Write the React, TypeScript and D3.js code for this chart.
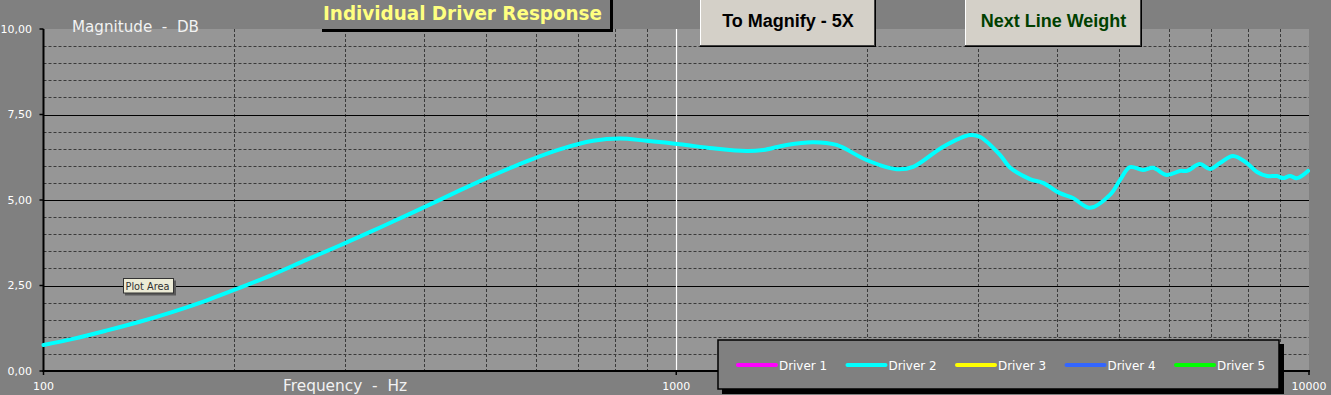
import React from "react";
import * as d3 from "d3";

// ---- data ----
const freqs: number[] = [
  100, 111.3, 125.6, 141.9, 160.1, 180.8, 204.1, 230.4, 260.2, 293.8, 327.7,
  356.8, 402.8, 454.7, 513.3, 579.9, 654.5, 738.8, 814.2, 897.3, 1013, 1143,
  1291, 1372, 1494, 1646, 1792, 1998, 2229, 2368, 2642, 2911, 3019, 3248,
  3368, 3622, 3797, 4039, 4236, 4506, 4846, 5026, 5212, 5465, 5668, 5964,
  6252, 6414, 6725, 6975, 7233, 7583, 7980, 8277, 8584, 8900, 9095, 9333,
  9572, 9964,
];
const driver2: number[] = [
  0.76, 0.94, 1.18, 1.44, 1.73, 2.06, 2.43, 2.82, 3.25, 3.67, 4.06, 4.37,
  4.82, 5.28, 5.72, 6.13, 6.48, 6.73, 6.8, 6.73, 6.63, 6.51, 6.43, 6.46, 6.61,
  6.69, 6.61, 6.17, 5.9, 5.97, 6.56, 6.9, 6.85, 6.32, 5.95, 5.61, 5.5, 5.2,
  5.06, 4.77, 5.15, 5.58, 5.96, 5.88, 5.94, 5.73, 5.85, 5.85, 6.05, 5.91, 6.08,
  6.29, 6.08, 5.82, 5.7, 5.7, 5.64, 5.7, 5.64, 5.85,
];
const yTicks: number[] = [0, 2.5, 5, 7.5, 10];
const yTickLabels: string[] = ["0,00", "2,50", "5,00", "7,50", "10,00"];
const yMinor: number[] = [0.5, 1, 1.5, 2, 3, 3.5, 4, 4.5, 5.5, 6, 6.5, 7, 8, 8.5, 9, 9.5];
const xTicks: number[] = [100, 1000, 10000];
const xMinor: number[] = [200, 300, 400, 500, 600, 700, 800, 900, 2000, 3000, 4000, 5000, 6000, 7000, 8000, 9000];
const legendNames: string[] = ["Driver 1", "Driver 2", "Driver 3", "Driver 4", "Driver 5"];
const legendColors: string[] = ["#ff00ff", "#00ffff", "#ffff00", "#3366ff", "#00ff00"];

const W = 1331;
const H = 395;
const X0 = 43.5;
const X1 = 1309;
const Y0 = 371;
const Y1 = 29;

const FONT = "'DejaVu Sans', Verdana, sans-serif";
const ARIAL = "'Liberation Sans', Arial, sans-serif";

export default function App() {
  const x = d3.scaleLog().domain([100, 10000]).range([X0, X1]);
  const y = d3.scaleLinear().domain([0, 10]).range([Y0, Y1]);
  const line = d3
    .line<number>()
    .x((_, i) => x(freqs[i]))
    .y((d) => y(d))
    .curve(d3.curveCatmullRom.alpha(0.5));

  return (
    <svg
      width={W}
      height={H}
      style={{ position: "absolute", left: 0, top: 0, display: "block" }}
    >
      <rect x={0} y={0} width={W} height={H} fill="#808080" />
      {/* plot area */}
      <rect x={X0} y={Y1} width={X1 - X0} height={Y0 - Y1} fill="#969696" />
      {/* minor horizontal grid */}
      {yMinor.map((v) => (
        <line
          key={"ym" + v}
          x1={X0}
          x2={X1}
          y1={Math.round(y(v)) + 0.5}
          y2={Math.round(y(v)) + 0.5}
          stroke="#3a3a3a"
          strokeWidth={1}
          strokeDasharray="3,2"
        />
      ))}
      {/* vertical minor grid */}
      {xMinor.map((f) => (
        <line
          key={"xm" + f}
          x1={Math.round(x(f)) + 0.5}
          x2={Math.round(x(f)) + 0.5}
          y1={Y1}
          y2={Y0}
          stroke="#3a3a3a"
          strokeWidth={1}
          strokeDasharray="3,2"
        />
      ))}
      {/* major horizontal */}
      {yTicks
        .filter((v) => v > 0 && v < 10)
        .map((v) => (
          <line
            key={"yM" + v}
            x1={X0}
            x2={X1}
            y1={Math.round(y(v)) + 0.5}
            y2={Math.round(y(v)) + 0.5}
            stroke="#000"
            strokeWidth={1.2}
          />
        ))}
      {/* 1000 Hz white line */}
      <line
        x1={Math.round(x(1000)) + 0.5}
        x2={Math.round(x(1000)) + 0.5}
        y1={Y1}
        y2={Y0}
        stroke="#ffffff"
        strokeWidth={1.2}
      />
      {/* axes */}
      <line x1={X0} x2={X0} y1={Y1} y2={Y0 + 1} stroke="#000" strokeWidth={2} />
      <line x1={X0 - 1} x2={X1 + 1} y1={Y0} y2={Y0} stroke="#000" strokeWidth={2} />
      {yTicks.map((v) => (
        <line key={"yt" + v} x1={X0 - 4} x2={X0} y1={y(v)} y2={y(v)} stroke="#000" strokeWidth={1.5} />
      ))}
      {xTicks.map((f) => (
        <line key={"xt" + f} x1={x(f)} x2={x(f)} y1={Y0} y2={Y0 + 4} stroke="#000" strokeWidth={1.5} />
      ))}
      {/* tick labels */}
      {yTicks.map((v, i) => (
        <text
          key={"yl" + v}
          x={32}
          y={y(v) + 3.5}
          textAnchor="end"
          fill="#ffffff"
          fontFamily={FONT}
          fontSize={11}
        >
          {yTickLabels[i]}
        </text>
      ))}
      {xTicks.map((f) => (
        <text
          key={"xl" + f}
          x={x(f)}
          y={390}
          textAnchor="middle"
          fill="#ffffff"
          fontFamily={FONT}
          fontSize={11}
        >
          {d3.format("d")(f)}
        </text>
      ))}
      {/* curve */}
      <path
        d={line(driver2) || ""}
        fill="none"
        stroke="#00ffff"
        strokeWidth={4}
        strokeLinejoin="round"
        strokeLinecap="round"
      />
      {/* axis titles */}
      <text
        x={72}
        y={31.5}
        fill="#f2f2f2"
        fontFamily={FONT}
        fontSize={15}
        textLength={127}
        lengthAdjust="spacingAndGlyphs"
        style={{ whiteSpace: "pre" }}
      >
        {"Magnitude  -  DB"}
      </text>
      <text
        x={283}
        y={391}
        fill="#f2f2f2"
        fontFamily={FONT}
        fontSize={15}
        textLength={124}
        lengthAdjust="spacingAndGlyphs"
        style={{ whiteSpace: "pre" }}
      >
        {"Frequency  -  Hz"}
      </text>
      {/* title */}
      <rect x={322} y={29} width={291} height={3} fill="#000" />
      <rect x={610} y={0} width={3} height={32} fill="#000" />
      <text
        x={323}
        y={20}
        fill="#ffff80"
        fontFamily={FONT}
        fontWeight="bold"
        fontSize={20}
        textLength={279}
        lengthAdjust="spacingAndGlyphs"
      >
        Individual Driver Response
      </text>
      {/* buttons */}
      {[
        { x0: 700, x1: 876, label: "To Magnify - 5X", color: "#000000" },
        { x0: 965, x1: 1142, label: "Next Line Weight", color: "#004000" },
      ].map((b) => (
        <g key={b.label}>
          <rect x={b.x0} y={0} width={b.x1 - b.x0} height={47} fill="#000" />
          <rect x={b.x0} y={0} width={b.x1 - b.x0 - 1} height={46} fill="#404040" />
          <rect x={b.x0} y={0} width={b.x1 - b.x0 - 2} height={45} fill="#d4d0c8" />
          <rect x={b.x0} y={0} width={1} height={45} fill="#ffffff" />
          <text
            x={(b.x0 + b.x1) / 2}
            y={27}
            textAnchor="middle"
            fill={b.color}
            fontFamily={ARIAL}
            fontWeight="bold"
            fontSize={18}
          >
            {b.label}
          </text>
        </g>
      ))}
      {/* plot area tooltip */}
      <rect x={125} y={280.5} width={51} height={15} fill="#5a5a5a" />
      <rect x={123.5} y={278.5} width={50} height={14.5} fill="#ecebd6" stroke="#333" strokeWidth={1} />
      <text x={125.5} y={290} fill="#303030" fontFamily={FONT} fontSize={10.5} textLength={44} lengthAdjust="spacingAndGlyphs">
        Plot Area
      </text>
      {/* legend */}
      <rect x={722} y={344} width={562} height={50} fill="#000" />
      <rect x={718} y={340} width={561} height={49} fill="#808080" stroke="#000" strokeWidth={1.5} />
      {legendNames.map((n, i) => {
        const lx = 738 + i * 109.5;
        return (
          <g key={n}>
            <line
              x1={lx}
              x2={lx + 38}
              y1={365}
              y2={365}
              stroke={legendColors[i]}
              strokeWidth={4}
              strokeLinecap="round"
            />
            <text
              x={lx + 41}
              y={370}
              fill="#ffffff"
              fontFamily={FONT}
              fontSize={13}
              textLength={48}
              lengthAdjust="spacingAndGlyphs"
            >
              {n}
            </text>
          </g>
        );
      })}
    </svg>
  );
}
